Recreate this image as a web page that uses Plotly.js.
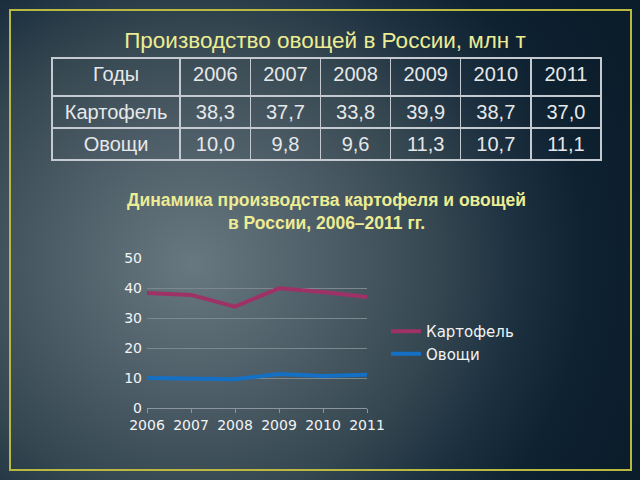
<!DOCTYPE html>
<html>
<head>
<meta charset="utf-8">
<script src="https://cdn.plot.ly/plotly-3.0.1.min.js"></script>
<style>
  html, body { margin: 0; padding: 0; }
  body {
    width: 640px; height: 480px; overflow: hidden;
    background: radial-gradient(ellipse 75% 95% at 30% 55%, #687880 0%, #4c5c66 30%, #34464f 52%, #1c3040 68%, #0e2231 82%, #0b1c2a 100%);
  }
  #chart { width: 640px; height: 480px; }
</style>
</head>
<body>
<div id="chart"></div>
<script>
// data
var years = ['2006', '2007', '2008', '2009', '2010', '2011'];
var potato = [38.3, 37.7, 33.8, 39.9, 38.7, 37.0];
var vegetables = [10.0, 9.8, 9.6, 11.3, 10.7, 11.1];
var rowNames = ['Картофель', 'Овощи'];
var headFirst = 'Годы';

var W = 640, H = 480;
function px(x) { return x / W; }
function py(y) { return 1 - y / H; }

function ru(v) { return v.toFixed(1).replace('.', ','); }

// table columns: first the row names, then one column per year
var cellCols = [rowNames];
years.forEach(function (y, i) {
  cellCols.push([ru(potato[i]), ru(vegetables[i])]);
});

var tableFont = { family: 'Liberation Sans, Arial, sans-serif', size: 20, color: '#e6e8ea' };
var gridCol = '#c4cacf';

var table = {
  type: 'table',
  domain: { x: [px(52), px(601)], y: [py(162), py(58)] },
  columnwidth: [128, 70, 70, 70, 70, 70, 70],
  header: {
    values: [headFirst].concat(years),
    align: 'center',
    height: 38,
    line: { color: gridCol, width: 1.5 },
    fill: { color: 'rgba(0,0,0,0)' },
    font: tableFont
  },
  cells: {
    values: cellCols,
    align: 'center',
    height: 32,
    line: { color: gridCol, width: 1.5 },
    fill: { color: 'rgba(0,0,0,0)' },
    font: tableFont
  }
};

var tr1 = {
  x: years, y: potato, name: 'Картофель',
  type: 'scatter', mode: 'lines',
  line: { color: '#9e3267', width: 4 },
  xaxis: 'x', yaxis: 'y'
};
var tr2 = {
  x: years, y: vegetables, name: 'Овощи',
  type: 'scatter', mode: 'lines',
  line: { color: '#1470c4', width: 4 },
  xaxis: 'x', yaxis: 'y'
};

var data = [table, tr1, tr2];

var tickFont = { family: 'DejaVu Sans, sans-serif', size: 14, color: '#f2f4f5' };

var layout = {
  width: W, height: H,
  margin: { l: 0, r: 0, t: 0, b: 0 },
  paper_bgcolor: 'rgba(0,0,0,0)',
  plot_bgcolor: 'rgba(0,0,0,0)',
  showlegend: true,
  title: {
    text: 'Производство овощей в России, млн т',
    font: { family: 'Liberation Sans, Arial, sans-serif', size: 22.5, color: '#ecec94' },
    x: px(325), xanchor: 'center',
    y: py(40), yanchor: 'middle'
  },
  xaxis: {
    domain: [px(147), px(367)],
    anchor: 'y',
    type: 'category',
    range: [0, 5],
    showgrid: false,
    showline: true, linecolor: '#8a969c', linewidth: 1,
    ticks: 'outside', ticklen: 4, tickcolor: '#8a969c',
    tickfont: tickFont,
    fixedrange: true
  },
  yaxis: {
    domain: [py(408), py(258)],
    anchor: 'x',
    range: [0, 50],
    dtick: 10,
    showgrid: true, gridcolor: '#7c888e', gridwidth: 1,
    zeroline: false,
    showline: false,
    ticks: '', ticklabelstandoff: 4,
    tickfont: tickFont,
    fixedrange: true
  },
  legend: {
    x: px(386), y: py(315), xanchor: 'left', yanchor: 'top',
    bgcolor: 'rgba(0,0,0,0)',
    font: { family: 'DejaVu Sans, sans-serif', size: 15, color: '#f2f4f5' },
    tracegroupgap: 0
  },
  annotations: [{
    xref: 'paper', yref: 'paper',
    x: px(326), y: py(211), xanchor: 'center', yanchor: 'middle',
    text: '<b>Динамика производства картофеля и овощей<br>в России, 2006–2011 гг.</b>',
    showarrow: false,
    font: { family: 'Liberation Sans, Arial, sans-serif', size: 17.5, color: '#ecec94' }
  }],
  shapes: [{
    type: 'rect', xref: 'paper', yref: 'paper',
    x0: px(10), x1: px(631), y0: py(470), y1: py(10),
    line: { color: '#b9b840', width: 2 }
  }]
};

Plotly.newPlot('chart', data, layout, { displayModeBar: false, staticPlot: true });
</script>
</body>
</html>
